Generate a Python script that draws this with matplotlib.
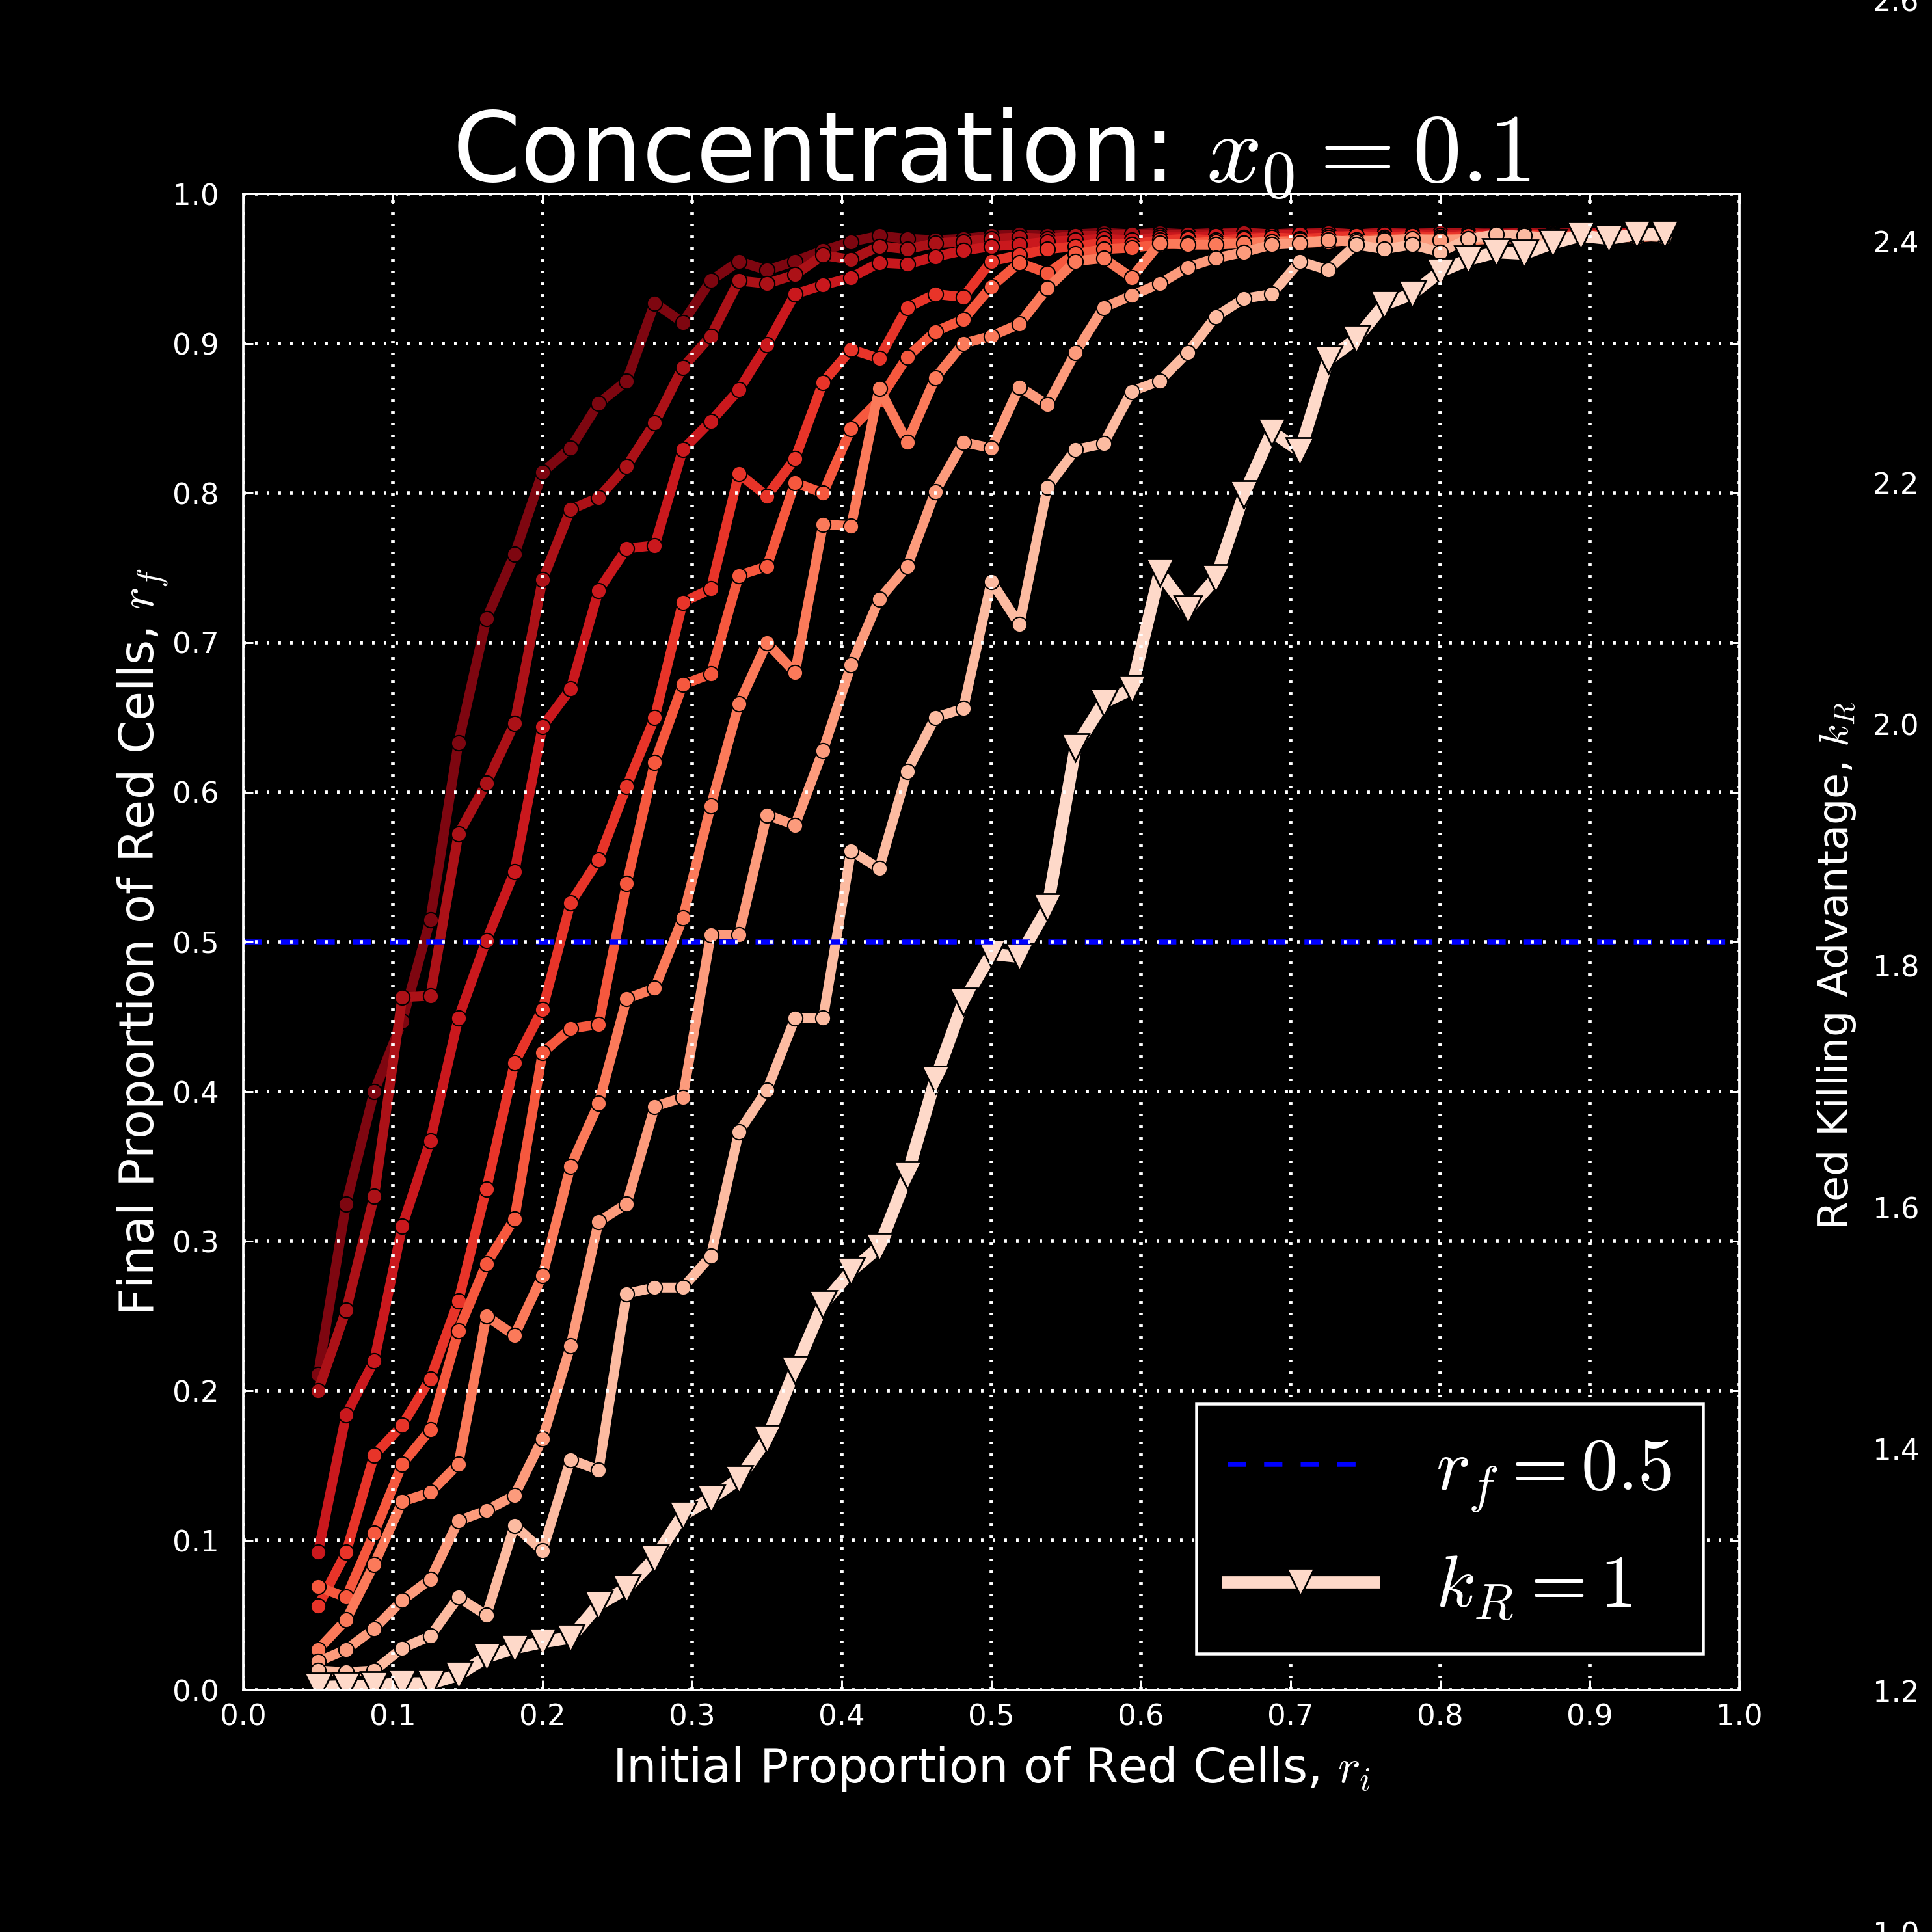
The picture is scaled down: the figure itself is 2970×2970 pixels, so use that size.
import numpy as np
import matplotlib
matplotlib.use("Agg")
import matplotlib.pyplot as plt
from matplotlib.colors import Normalize

plt.rcParams['mathtext.fontset'] = 'cm'
plt.rcParams['font.family'] = ['DejaVu Sans']

# ---------------- data ----------------
r_i = np.linspace(0.05, 0.95, 49)          # initial proportion of red cells
k_R = [1.0, 1.2, 1.4, 1.6, 1.8, 2.0, 2.2, 2.4, 2.6]

rf_k10 = [0.002, 0.0025, 0.003, 0.0044, 0.0044, 0.010, 0.022, 0.028, 0.032, 0.035,
          0.057, 0.068, 0.088, 0.117, 0.128, 0.141, 0.168, 0.214, 0.258, 0.280,
          0.296, 0.344, 0.408, 0.460, 0.492, 0.490, 0.523, 0.630, 0.660, 0.669,
          0.747, 0.722, 0.743, 0.799, 0.841, 0.828, 0.889, 0.903, 0.926, 0.933,
          0.948, 0.956, 0.961, 0.960, 0.967, 0.972, 0.970, 0.973, 0.973]
rf_k12 = [0.013, 0.012, 0.013, 0.028, 0.036, 0.062, 0.050, 0.110, 0.093, 0.154,
          0.147, 0.265, 0.269, 0.269, 0.290, 0.373, 0.401, 0.449, 0.449, 0.561,
          0.549, 0.614, 0.650, 0.656, 0.741, 0.712, 0.804, 0.829, 0.833, 0.868,
          0.875, 0.894, 0.918, 0.930, 0.933, 0.955, 0.949, 0.966, 0.963, 0.966,
          0.961, 0.970, 0.973, 0.972, 0.971, 0.972, 0.971, 0.972, 0.972]
rf_k14 = [0.019, 0.027, 0.041, 0.060, 0.074, 0.113, 0.120, 0.130, 0.168, 0.230,
          0.313, 0.325, 0.390, 0.396, 0.505, 0.505, 0.585, 0.578, 0.628, 0.685,
          0.729, 0.751, 0.801, 0.834, 0.830, 0.871, 0.859, 0.894, 0.924, 0.932,
          0.940, 0.951, 0.957, 0.961, 0.966, 0.967, 0.969, 0.968, 0.969, 0.970,
          0.969, 0.970, 0.970, 0.971, 0.970, 0.971, 0.971, 0.972, 0.971]
rf_k16 = [0.027, 0.047, 0.084, 0.126, 0.132, 0.151, 0.250, 0.237, 0.277, 0.350,
          0.392, 0.462, 0.469, 0.516, 0.591, 0.659, 0.700, 0.680, 0.779, 0.778,
          0.870, 0.834, 0.877, 0.900, 0.905, 0.913, 0.937, 0.955, 0.957, 0.944,
          0.967, 0.966, 0.966, 0.967, 0.968, 0.967, 0.968, 0.969, 0.968, 0.969,
          0.970, 0.969, 0.970, 0.970, 0.971, 0.970, 0.971, 0.971, 0.972]
rf_k18 = [0.069, 0.062, 0.105, 0.151, 0.174, 0.240, 0.285, 0.315, 0.426, 0.442,
          0.445, 0.539, 0.620, 0.672, 0.679, 0.745, 0.751, 0.807, 0.800, 0.843,
          0.862, 0.891, 0.908, 0.916, 0.938, 0.954, 0.947, 0.960, 0.963, 0.964,
          0.966, 0.967, 0.968, 0.967, 0.968, 0.969, 0.968, 0.969, 0.970, 0.969,
          0.970, 0.970, 0.971, 0.970, 0.971, 0.971, 0.972, 0.971, 0.972]
rf_k20 = [0.056, 0.092, 0.157, 0.177, 0.208, 0.260, 0.335, 0.419, 0.455, 0.526,
          0.555, 0.604, 0.650, 0.727, 0.736, 0.813, 0.798, 0.823, 0.874, 0.896,
          0.890, 0.924, 0.933, 0.931, 0.955, 0.959, 0.963, 0.965, 0.967, 0.966,
          0.969, 0.970, 0.969, 0.970, 0.971, 0.970, 0.971, 0.972, 0.971, 0.972,
          0.971, 0.972, 0.972, 0.973, 0.972, 0.972, 0.973, 0.972, 0.973]
rf_k22 = [0.092, 0.184, 0.220, 0.310, 0.367, 0.449, 0.501, 0.547, 0.644, 0.669,
          0.735, 0.763, 0.765, 0.829, 0.848, 0.869, 0.899, 0.933, 0.939, 0.944,
          0.954, 0.953, 0.958, 0.962, 0.965, 0.966, 0.968, 0.969, 0.970, 0.969,
          0.971, 0.971, 0.972, 0.971, 0.972, 0.973, 0.972, 0.972, 0.973, 0.973,
          0.972, 0.973, 0.973, 0.973, 0.972, 0.973, 0.973, 0.974, 0.973]
rf_k24 = [0.200, 0.254, 0.330, 0.463, 0.464, 0.572, 0.606, 0.646, 0.742, 0.789,
          0.797, 0.818, 0.847, 0.884, 0.905, 0.942, 0.940, 0.946, 0.959, 0.956,
          0.965, 0.963, 0.967, 0.968, 0.970, 0.971, 0.970, 0.972, 0.972, 0.973,
          0.972, 0.973, 0.973, 0.974, 0.973, 0.973, 0.974, 0.973, 0.974, 0.973,
          0.974, 0.974, 0.973, 0.974, 0.973, 0.974, 0.974, 0.973, 0.974]
rf_k26 = [0.211, 0.325, 0.400, 0.447, 0.515, 0.633, 0.716, 0.759, 0.814, 0.830,
          0.860, 0.875, 0.927, 0.914, 0.942, 0.955, 0.949, 0.955, 0.962, 0.968,
          0.972, 0.970, 0.969, 0.970, 0.972, 0.973, 0.972, 0.973, 0.974, 0.973,
          0.974, 0.973, 0.974, 0.974, 0.973, 0.974, 0.974, 0.973, 0.974, 0.974,
          0.974, 0.973, 0.974, 0.974, 0.974, 0.974, 0.973, 0.974, 0.974]

series = [rf_k10, rf_k12, rf_k14, rf_k16, rf_k18, rf_k20, rf_k22, rf_k24, rf_k26]
r_f_threshold = 0.5

# ---------------- figure ----------------
fig = plt.figure(figsize=(11, 11), dpi=270, facecolor='black')
ax = fig.add_axes([374 / 2970, 372 / 2970, 2300 / 2970, 2300 / 2970])
ax.set_facecolor('black')

cmap = plt.get_cmap('Reds')
norm = Normalize(vmin=0.7, vmax=2.7)

# darkest (largest k_R) first, k_R = 1 last
for k, rf in list(zip(k_R, series))[:0:-1]:
    ax.plot(r_i, rf, '-o', color=cmap(norm(k)), lw=4, ms=6.2,
            mec='black', mew=0.55, zorder=2)
tri_line, = ax.plot(r_i, series[0], '-v', color=cmap(norm(k_R[0])), lw=5, ms=11,
                    mec='black', mew=0.75, zorder=2)
blue_line = ax.axhline(r_f_threshold, color='#0000ff', lw=2, dashes=(3.75, 3.75), zorder=2.1)

ax.set_xlim(0, 1)
ax.set_ylim(0, 1)
ax.set_xticks(np.arange(0, 1.01, 0.1))
ax.set_yticks(np.arange(0, 1.01, 0.1))
ax.grid(True, color='white', linestyle=(0, (0.7, 2.5)), linewidth=1.5)
ax.set_axisbelow(False)

for s in ax.spines.values():
    s.set_color('white')
    s.set_linewidth(1)

ax.tick_params(axis='both', which='major', direction='in', top=True, right=True,
               length=4, width=0.8, color='white', labelcolor='white', labelsize=12)
ax.tick_params(axis='x', pad=5.5)
ax.tick_params(axis='y', pad=10)

ax.set_title('Concentration: $x_0 = 0.1$', color='white', fontsize=40, pad=5)
ax.set_xlabel('Initial Proportion of Red Cells, $r_i$', color='white',
              fontsize=19.6, labelpad=5.5)
ax.set_ylabel('Final Proportion of Red Cells, $r_f$', color='white',
              fontsize=19.6, labelpad=1)

leg = ax.legend([blue_line, tri_line], ['$r_f = 0.5$', '$k_R = 1$'],
                loc='lower right', fontsize=30, numpoints=1, fancybox=False,
                framealpha=1, facecolor='black', edgecolor='white',
                handlelength=2, borderaxespad=0.5, labelspacing=0.52,
                borderpad=0.42, handletextpad=0.85)
leg.get_frame().set_linewidth(1.2)
for t in leg.get_texts():
    t.set_color('white')

# right-hand k_R scale
ax2 = fig.add_axes([2860 / 2970, 0.0, 1e-4, 1.0])
ax2.set_ylim(1.0, 2.6)
ax2.set_yticks(k_R)
ax2.set_xticks([])
ax2.yaxis.tick_right()
ax2.yaxis.set_label_position('left')
ax2.tick_params(axis='y', length=0, pad=5, labelcolor='white', labelsize=12)
for s in ax2.spines.values():
    s.set_visible(False)
ax2.patch.set_alpha(0)
ax2.set_ylabel('Red Killing Advantage, $k_R$', color='white', fontsize=17, labelpad=1)

fig.savefig('out.png', dpi=270, facecolor='black')
